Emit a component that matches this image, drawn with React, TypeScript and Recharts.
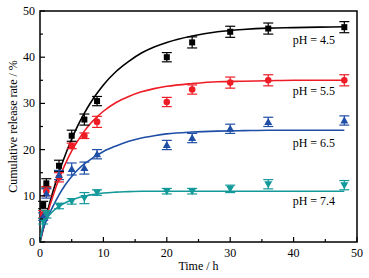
import {
  ComposedChart,
  Line,
  Scatter,
  ErrorBar,
  XAxis,
  YAxis,
  ReferenceArea,
  ReferenceDot,
} from "recharts";

const FONT = "'Liberation Serif', 'Times New Roman', serif";

// sampling times of the measured points (h)
const times = [0.5, 1, 3, 5, 7, 9, 20, 24, 30, 36, 48];

// measured release (%) and error
const ph45 = [8, 12.7, 16.5, 23, 26.5, 30.5, 40, 43.2, 45.5, 46.2, 46.5];
const ph45Err = [0.8, 1, 1.2, 1.2, 1.2, 1, 1, 1.2, 1.2, 1.2, 1.2];
const ph55 = [6, 11, 14, 20.8, 23, 26, 30.3, 33, 34.5, 35, 35];
const ph55Err = [0.8, 1, 1, 0.6, 0.6, 1.2, 1, 1, 1.2, 1.2, 1.2];
const ph65 = [5.5, 10.5, 14.5, 15.8, 16, 19, 21, 22.5, 24.5, 26, 26.3];
const ph65Err = [0.8, 1, 1, 1.3, 1.3, 1, 1, 1, 1, 1, 1];
const ph74 = [4.5, 6, 7.8, 8.8, 9.5, 10.7, 11, 11, 11.5, 12.5, 12.3];
const ph74Err = [0.6, 0.8, 0.6, 0.6, 1.2, 0.6, 0.6, 0.6, 0.8, 1, 1];

// fitted curves
const fitTimes = [0, 0.5, 1, 2, 3, 4, 5, 6, 7, 8, 9, 10, 12, 14, 16, 18, 20, 24, 28, 32, 36, 40, 44, 48];
const fit45 = [0, 2.9, 5.7, 10.7, 15.1, 18.9, 22.3, 25.3, 27.9, 30.2, 32.2, 34.0, 36.9, 39.1, 40.9, 42.2, 43.2, 44.6, 45.5, 46.0, 46.3, 46.4, 46.5, 46.6];
const fit55 = [0, 2.7, 5.3, 9.8, 13.7, 16.9, 19.7, 22.0, 24.0, 25.7, 27.1, 28.3, 30.2, 31.5, 32.5, 33.2, 33.7, 34.3, 34.7, 34.8, 34.9, 35, 35, 35];
const fit65 = [0, 2.8, 4.6, 7.6, 10.2, 12.4, 14.2, 15.7, 16.9, 17.9, 18.8, 19.6, 20.8, 21.8, 22.5, 23.0, 23.4, 23.8, 24.0, 24.1, 24.2, 24.2, 24.2, 24.2];
const fit74 = [0, 3.8, 5.0, 6.6, 7.7, 8.5, 9.1, 9.6, 9.9, 10.2, 10.4, 10.6, 10.8, 10.9, 11, 11, 11, 11, 11, 11, 11, 11, 11, 11];

const labels = ["pH = 4.5", "pH = 5.5", "pH = 6.5", "pH = 7.4"];
const labelX = [43.2, 43.2, 43.2, 43.2];
const labelY = [43.7, 32.7, 21.5, 8.9];

const xTicks = [0, 5, 10, 15, 20, 25, 30, 35, 40, 45, 50];
const yTicks = [0, 5, 10, 15, 20, 25, 30, 35, 40, 45, 50];

const toPoints = (vals: number[], errs: number[]) =>
  times.map((t, i) => ({ t, v: vals[i], e: errs[i] }));
const toFit = (vals: number[]) => fitTimes.map((t, i) => ({ t, v: vals[i] }));

const series = [
  { name: "4.5", color: "#000000", shape: "square", pts: toPoints(ph45, ph45Err), fit: toFit(fit45) },
  { name: "5.5", color: "#ee1c25", shape: "circle", pts: toPoints(ph55, ph55Err), fit: toFit(fit55) },
  { name: "6.5", color: "#1f4ea6", shape: "up", pts: toPoints(ph65, ph65Err), fit: toFit(fit65) },
  { name: "7.4", color: "#14999a", shape: "down", pts: toPoints(ph74, ph74Err), fit: toFit(fit74) },
];

const makeShape = (kind: string, color: string) => (props: any) => {
  const { cx, cy } = props;
  if (cx == null || cy == null) return <g />;
  if (kind === "square")
    return <rect x={cx - 3} y={cy - 3} width={6} height={6} fill={color} />;
  if (kind === "circle") return <circle cx={cx} cy={cy} r={3.3} fill={color} />;
  if (kind === "up")
    return <polygon points={`${cx},${cy - 4} ${cx - 4},${cy + 3} ${cx + 4},${cy + 3}`} fill={color} />;
  return <polygon points={`${cx},${cy + 4} ${cx - 4},${cy - 3} ${cx + 4},${cy - 3}`} fill={color} />;
};

const XTick = ({ x, y, payload }: any) => {
  const major = payload.value % 10 === 0;
  return (
    <g>
      <line x1={x} x2={x} y1={y} y2={y - (major ? 5 : 3)} stroke="#000" strokeWidth={1.2} />
      {major && (
        <text x={x} y={y + 15} textAnchor="middle" fontSize={12} fontFamily={FONT} fill="#000">
          {payload.value}
        </text>
      )}
    </g>
  );
};

const YTick = ({ x, y, payload }: any) => {
  const major = payload.value % 10 === 0;
  return (
    <g>
      <line x1={x} x2={x + (major ? 5 : 3)} y1={y} y2={y} stroke="#000" strokeWidth={1.2} />
      {major && (
        <text x={x - 5} y={y + 4} textAnchor="end" fontSize={12} fontFamily={FONT} fill="#000">
          {payload.value}
        </text>
      )}
    </g>
  );
};

export default function App() {
  return (
    <div style={{ position: "absolute", left: 0, top: 0, width: 369, height: 278, background: "#fff" }}>
      <ComposedChart width={369} height={278} margin={{ top: 11, right: 12, bottom: 0, left: 0 }}>
        <XAxis
          dataKey="t"
          type="number"
          domain={[0, 50]}
          ticks={xTicks}
          tick={<XTick />}
          tickLine={false}
          tickSize={0}
          tickMargin={0}
          axisLine={false}
          height={36}
          allowDuplicatedCategory={false}
          label={{
            value: "Time / h",
            position: "insideBottom",
            offset: 8,
            fontSize: 12,
            fontFamily: FONT,
            fill: "#000",
          }}
        />
        <YAxis
          type="number"
          domain={[0, 50]}
          ticks={yTicks}
          tick={<YTick />}
          tickLine={false}
          tickSize={0}
          tickMargin={0}
          axisLine={false}
          width={40}
          label={{
            value: "Cumulative release rate / %",
            angle: -90,
            position: "insideLeft",
            offset: 13,
            fontSize: 12,
            fontFamily: FONT,
            fill: "#000",
            style: { textAnchor: "middle" },
          }}
        />
        {series.map((s) => (
          <Line
            key={`fit-${s.name}`}
            data={s.fit}
            dataKey="v"
            type="monotone"
            stroke={s.color}
            strokeWidth={1.6}
            dot={false}
            activeDot={false}
            isAnimationActive={false}
          />
        ))}
        {series.map((s) => (
          <Scatter
            key={`pts-${s.name}`}
            data={s.pts}
            dataKey="v"
            fill={s.color}
            shape={makeShape(s.shape, s.color)}
            isAnimationActive={false}
          >
            <ErrorBar dataKey="e" direction="y" width={5} stroke={s.color} strokeWidth={1.2} />
          </Scatter>
        ))}
        <ReferenceArea x1={0} x2={50} y1={0} y2={50} fill="none" stroke="#000" strokeWidth={1.5} />
        {labels.map((txt, i) => (
          <ReferenceDot
            key={txt}
            x={labelX[i]}
            y={labelY[i]}
            r={0}
            fill="none"
            stroke="none"
            label={{ value: txt, position: "center", fontSize: 12, fontFamily: FONT, fill: "#000" }}
          />
        ))}
      </ComposedChart>
    </div>
  );
}
